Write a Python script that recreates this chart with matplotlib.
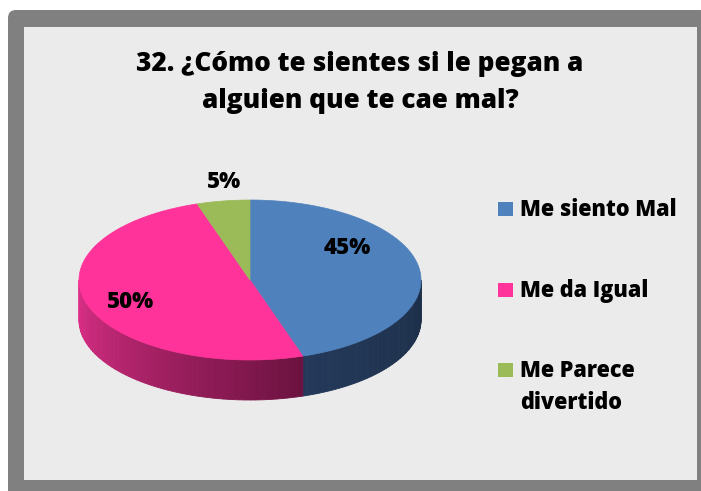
import numpy as np
import matplotlib
matplotlib.use("Agg")
import matplotlib.pyplot as plt
from matplotlib.patches import Polygon, Rectangle, FancyBboxPatch
from matplotlib.colors import to_rgb

title_lines = ["32. ¿Cómo te sientes si le pegan a", "alguien que te cae mal?"]
categories = ["Me siento Mal", "Me da Igual", "Me Parece\ndivertido"]
values = [45, 50, 5]
labels = ["45%", "50%", "5%"]
top_colors = ["#4F81BD", "#FF3399", "#9BBB59"]
side_light = ["#24395A", "#E0308A", "#7A9440"]
side_dark = ["#1C2E48", "#6C1240", "#5A6E30"]

FONT = "Open Sans"
WEIGHT = 800
W, H = 701, 491
fig = plt.figure(figsize=(W / 100, H / 100), dpi=100)
ax = fig.add_axes([0, 0, 1, 1])
ax.set_xlim(0, W)
ax.set_ylim(H, 0)
ax.axis("off")

# frame
ax.add_patch(FancyBboxPatch((8, 10), 700, 490, boxstyle="round,pad=0,rounding_size=8",
                            fc="#808080", ec="none"))
ax.add_patch(Rectangle((24, 27), 673, 453, fc="#EBEBEB", ec="none"))

# 3D pie geometry
cx, cy, rx, ry, depth = 250, 280, 171, 80, 40
vals = np.array(values, dtype=float)
fr = vals / vals.sum()


def pt(theta, dy=0.0):
    t = np.radians(theta)
    return cx + rx * np.cos(t), cy - ry * np.sin(t) + dy


starts = []
a0 = 90.0
for f in fr:
    a1 = a0 - 360 * f
    starts.append((a1, a0))
    a0 = a1

# side walls
for i, (a1, a0) in enumerate(starts):
    for shift in (-360, 0, 360):
        lo = max(a1 + shift, -180)
        hi = min(a0 + shift, 0)
        if hi <= lo:
            continue
        n = 60
        th = np.linspace(lo, hi, n + 1)
        c1 = np.array(to_rgb(side_light[i]))
        c2 = np.array(to_rgb(side_dark[i]))
        for k in range(n):
            ts = np.linspace(th[k], th[k + 1], 4)
            top = [pt(t) for t in ts]
            bot = [pt(t, depth) for t in ts[::-1]]
            tt = k / max(n - 1, 1)
            col = c1 * (1 - tt) + c2 * tt
            ax.add_patch(Polygon(top + bot, closed=True, fc=col, ec=col, lw=0.6))

# top faces
for i, (a1, a0) in enumerate(starts):
    ts = np.linspace(a1, a0, 200)
    poly = [(cx, cy)] + [pt(t) for t in ts]
    ax.add_patch(Polygon(poly, closed=True, fc=top_colors[i], ec=top_colors[i], lw=0.5))

# data labels
label_pos = [(347, 254), (131, 308), (224, 188)]
for lab, (x, y) in zip(labels, label_pos):
    ax.text(x, y, lab, ha="center", va="baseline", fontsize=16, fontweight=WEIGHT,
            family=FONT, color="black")

# title
for line, y in zip(title_lines, [70.5, 108]):
    ax.text(360, y, line, ha="center", va="baseline", fontsize=18.8, fontweight=WEIGHT,
            family=FONT, color="black")

# legend
leg_y = [216, 297, 377]
for cat, col, y in zip(categories, top_colors, leg_y):
    ax.add_patch(Rectangle((498, y - 14), 15, 14, fc=col, ec="none"))
    for j, part in enumerate(cat.split("\n")):
        ax.text(520, y + 32 * j, part, ha="left", va="baseline", fontsize=15.6,
                fontweight=WEIGHT, family=FONT, color="black")

fig.savefig("out.png", dpi=100)
